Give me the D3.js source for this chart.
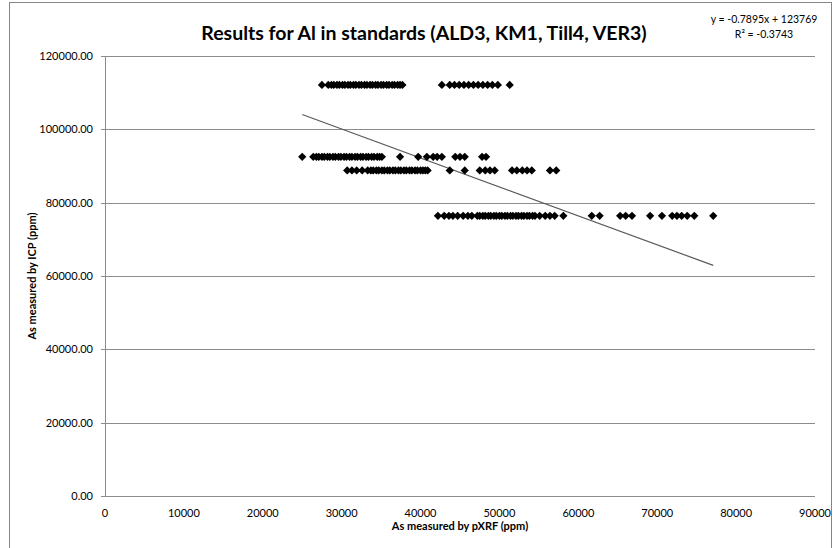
<!DOCTYPE html>
<meta charset="utf-8">
<script src="https://cdn.jsdelivr.net/npm/d3@7"></script>
<style>
body { margin: 0; background: #fff; }
text { font-family: Lato, "Open Sans", sans-serif; fill: #000; }
.grid line { stroke: #8c8c8c; stroke-width: 1px; }
.tick text { font-size: 11px; }
</style>
<body>
<script>

// ICP reference values (ppm) for each standard
var icpValues = [112100, 92500, 88800, 76400];

// pXRF readings (ppm) grouped by standard
var pxrfTop = [27500, 28300, 28700, 29000, 29400, 29700, 30100, 30400, 30800, 31100, 31500,
  31800, 32200, 32500, 32900, 33200, 33600, 33900, 34300, 34600, 35000, 35300, 35700,
  36000, 36400, 36700, 37100, 37400, 37700,
  42700, 43700, 44300, 44900, 45500, 46100, 46700, 47300, 47900, 48500, 49100, 49800, 51300];
var pxrfSecond = [25000, 26400, 26800, 27100, 27500, 27800, 28200, 28500, 28900, 29200, 29600,
  29900, 30300, 30600, 31000, 31300, 31700, 32000, 32400, 32700, 33100, 33400, 33800,
  34100, 34500, 34800, 35100,
  37400, 39700, 40800, 41600, 42100, 42700, 44400, 45000, 45600, 47800, 48300];
var pxrfThird = [30700, 31300, 31900, 32600, 33300, 33700, 34000, 34400, 34700, 35100, 35400,
  35800, 36100, 36500, 36800, 37200, 37500, 37900, 38200, 38600, 38900, 39300, 39600,
  40000, 40300, 40600, 40900,
  43700, 45600, 47500, 48200, 48800, 49400, 51600, 52200, 52900, 53500, 54100, 56400, 57200];
var pxrfFourth = [42200, 43000, 43600, 44100, 44700, 45400, 46000, 46500,
  47200, 47500, 47900, 48200, 48600, 48900, 49300, 49600, 50000, 50300, 50700, 51000,
  51400, 51700, 52100, 52400, 52800, 53100, 53500, 53800, 54200, 54500,
  55100, 55800, 56400, 57000, 58100, 61700, 62700, 65300, 66000, 66800,
  69100, 70600, 71900, 72500, 73100, 73800, 74700, 77100];

var xTicks = [0, 10000, 20000, 30000, 40000, 50000, 60000, 70000, 80000, 90000];
var yTicks = [0, 20000, 40000, 60000, 80000, 100000, 120000];

// linear trendline as printed on the chart
var slope = -0.7895, intercept = 123769, rSquared = -0.3743;

var groups = [pxrfTop, pxrfSecond, pxrfThird, pxrfFourth];
var points = [];
groups.forEach(function(g, i) {
  g.forEach(function(v) { points.push({x: v, y: icpValues[i]}); });
});

var width = 833, height = 548;
var svg = d3.select("body").append("svg")
    .attr("width", width)
    .attr("height", height);

// chart area border
svg.append("rect")
    .attr("x", 9.5).attr("y", 2.5)
    .attr("width", 822).attr("height", 560)
    .attr("fill", "#fff")
    .attr("stroke", "#868686");

var x = d3.scaleLinear().domain([0, 90000]).range([105, 815]);
var y = d3.scaleLinear().domain([0, 120000]).range([496, 56]);

// horizontal gridlines
svg.append("g").attr("class", "grid")
  .selectAll("line")
  .data(yTicks)
  .enter().append("line")
    .attr("x1", x(0) - 4).attr("x2", x(90000))
    .attr("y1", function(d) { return Math.round(y(d)) + 0.5; })
    .attr("y2", function(d) { return Math.round(y(d)) + 0.5; });

// vertical axis line
svg.append("line")
    .attr("x1", x(0) + 0.5).attr("x2", x(0) + 0.5)
    .attr("y1", y(120000)).attr("y2", y(0) + 1)
    .attr("stroke", "#8c8c8c");

// y tick labels
svg.append("g").attr("class", "tick")
  .selectAll("text")
  .data(yTicks)
  .enter().append("text")
    .attr("x", 93)
    .attr("y", function(d) { return y(d); })
    .attr("dy", "0.35em")
    .attr("text-anchor", "end")
    .text(function(d) { return d3.format(".2f")(d); });

// x tick labels
svg.append("g").attr("class", "tick")
  .selectAll("text")
  .data(xTicks)
  .enter().append("text")
    .attr("x", function(d) { return x(d); })
    .attr("y", 513)
    .attr("dy", "0.35em")
    .attr("text-anchor", "middle")
    .text(function(d) { return d; });

// axis titles
svg.append("text")
    .attr("x", 460).attr("y", 530)
    .attr("text-anchor", "middle")
    .style("font-size", "11px").style("font-weight", 700)
    .text("As measured by pXRF (ppm)");

svg.append("text")
    .attr("transform", "translate(36,276) rotate(-90)")
    .attr("text-anchor", "middle")
    .style("font-size", "11px").style("font-weight", 700)
    .text("As measured by ICP (ppm)");

// title
svg.append("text")
    .attr("x", 424).attr("y", 40)
    .attr("text-anchor", "middle")
    .style("font-size", "19.5px").style("font-weight", 700)
    .text("Results for Al in standards (ALD3, KM1, Till4, VER3)");

// trendline equation
svg.append("text")
    .attr("x", 764).attr("y", 23)
    .attr("text-anchor", "middle")
    .style("font-size", "10.5px")
    .text("y = " + slope + "x + " + intercept);
svg.append("text")
    .attr("x", 764).attr("y", 38)
    .attr("text-anchor", "middle")
    .style("font-size", "10.5px")
    .text("R\u00b2 = " + rSquared);

// trendline over data range
var xExt = d3.extent(points, function(d) { return d.x; });
svg.append("line")
    .attr("x1", x(xExt[0])).attr("y1", y(slope * xExt[0] + intercept))
    .attr("x2", x(xExt[1])).attr("y2", y(slope * xExt[1] + intercept))
    .attr("stroke", "#595959")
    .attr("stroke-width", 1.2);

// diamond markers
var diamond = d3.symbol().type(d3.symbolSquare).size(34);
svg.append("g")
  .selectAll("path")
  .data(points)
  .enter().append("path")
    .attr("d", diamond)
    .attr("fill", "#000")
    .attr("transform", function(d) {
      return "translate(" + x(d.x) + "," + y(d.y) + ") rotate(45)";
    });

</script>
</body>
</html>
